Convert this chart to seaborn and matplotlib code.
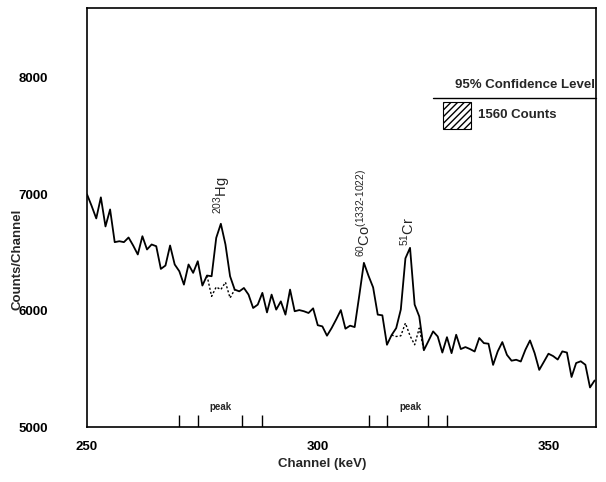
import numpy as np
import pandas as pd
import matplotlib
matplotlib.use("Agg")
import matplotlib.pyplot as plt
import matplotlib.transforms as mtransforms
from matplotlib.patches import Rectangle
import seaborn as sns

# ---------------- data ----------------
channels = list(range(250, 361))
counts = [
    7000, 6900, 6793, 6974, 6724, 6870, 6589, 6597, 6589, 6629,   # 250-259
    6560, 6483, 6640, 6526, 6569, 6554, 6359, 6388, 6560, 6397,   # 260-269
    6339, 6224, 6397, 6325, 6425, 6216, 6302, 6296, 6626, 6747,   # 270-279
    6569, 6296, 6181, 6166, 6195, 6138, 6023, 6052, 6153, 5985,   # 280-289
    6138, 6009, 6080, 5966, 6181, 5995, 6005, 5995, 5980, 6020,   # 290-299
    5875, 5865, 5785, 5850, 5925, 6005, 5845, 5871, 5859, 6130,   # 300-309
    6411, 6300, 6200, 5966, 5960, 5707, 5790, 5850, 6010, 6450,   # 310-319
    6540, 6052, 5950, 5660, 5740, 5822, 5778, 5640, 5772, 5635,   # 320-329
    5793, 5670, 5687, 5670, 5649, 5765, 5721, 5716, 5534, 5650,   # 330-339
    5730, 5620, 5570, 5578, 5563, 5664, 5744, 5635, 5491, 5560,   # 340-349
    5630, 5610, 5580, 5650, 5640, 5430, 5550, 5565, 5535, 5340,   # 350-359
    5400,                                                          # 360
]

# background (dotted) under the peaks
hg_bg_channels = [276, 277, 278, 279, 280, 281, 282]
hg_bg_counts = [6302, 6123, 6204, 6181, 6244, 6109, 6181]
cr_bg_channels = [316, 317, 318, 319, 320, 321, 322, 323]
cr_bg_counts = [5790, 5778, 5784, 5893, 5784, 5707, 5850, 5660]

peak_marks = [270, 274, 283.5, 288, 311, 315, 324, 328]
peak_label_x = [279, 320]

x_ticks = [250, 300, 350]
y_ticks = [5000, 6000, 7000, 8000]

isotopes = [
    (r"$\mathregular{^{203}Hg}$", 279.3, 6830),
    (r"$\mathregular{^{60}Co^{(1332\text{-}1022)}}$", 310.0, 6460),
    (r"$\mathregular{^{51}Cr}$", 319.6, 6560),
]

# ---------------- style ----------------
sns.set_theme(style="white")
plt.rcParams["font.family"] = ["Liberation Sans", "DejaVu Sans"]
plt.rcParams["mathtext.fontset"] = "custom"
plt.rcParams["mathtext.rm"] = "Liberation Sans"
plt.rcParams["mathtext.it"] = "Liberation Sans:italic"
plt.rcParams["mathtext.bf"] = "Liberation Sans:bold"

fig = plt.figure(figsize=(6.06, 4.82), dpi=100)
ax = fig.add_axes([0.1436, 0.1141, 0.9835 - 0.1436, 0.983 - 0.1141])

df = pd.DataFrame({"Channel": channels, "Counts": counts})
sns.lineplot(data=df, x="Channel", y="Counts", color="black", lw=1.3, ax=ax)

df_hg = pd.DataFrame({"Channel": hg_bg_channels, "Counts": hg_bg_counts})
sns.lineplot(data=df_hg, x="Channel", y="Counts", color="black", lw=1.0,
             linestyle=(0, (1.5, 1.5)), ax=ax)
df_cr = pd.DataFrame({"Channel": cr_bg_channels, "Counts": cr_bg_counts})
sns.lineplot(data=df_cr, x="Channel", y="Counts", color="black", lw=1.0,
             linestyle=(0, (1.5, 1.5)), ax=ax)

ax.set_xlim(250, 360.3)
ax.set_ylim(5000, 8600)
ax.set_xticks(x_ticks)
ax.set_yticks(y_ticks)
ax.tick_params(axis="both", direction="in", length=6, width=1.0,
               labelsize=9.5, colors="black")
ax.tick_params(axis="y", pad=28)
ax.tick_params(axis="x", pad=10)
for lab in ax.get_xticklabels() + ax.get_yticklabels():
    lab.set_fontweight("bold")

for sp in ax.spines.values():
    sp.set_color("black")
    sp.set_linewidth(1.2)

ax.set_xlabel("Channel (keV)", fontsize=9.5, fontweight="bold")
ax.set_ylabel("Counts/Channel", fontsize=9.5, fontweight="bold")
ax.xaxis.set_label_coords(0.462, -0.075)
ax.yaxis.set_label_coords(-0.125, 0.40)

# peak window markers on the bottom axis
trans = mtransforms.blended_transform_factory(ax.transData, ax.transAxes)
ax.vlines(peak_marks, 0, 0.028, color="black", lw=1.0, transform=trans)
for px in peak_label_x:
    ax.text(px, 0.035, "peak", transform=trans, ha="center", va="bottom",
            fontsize=7, fontweight="bold")

# isotope labels
for txt, xx, yy in isotopes:
    ax.text(xx, yy, txt, rotation=90, ha="center", va="bottom", fontsize=10.5)

# legend-like annotation
ax.text(0.998, 0.816, "95% Confidence Level", transform=ax.transAxes,
        ha="right", va="center", fontsize=9.5, fontweight="bold")
ax.plot([0.68, 1.0], [0.785, 0.785], transform=ax.transAxes, color="black",
        lw=1.0, clip_on=False)
rect = Rectangle((0.699, 0.711), 0.055, 0.065, transform=ax.transAxes,
                 facecolor="white", edgecolor="black", hatch="/////", lw=0.8)
ax.add_patch(rect)
ax.text(0.768, 0.745, "1560 Counts", transform=ax.transAxes,
        ha="left", va="center", fontsize=9.5, fontweight="bold")

fig.savefig("out.png", dpi=100, facecolor="white")
